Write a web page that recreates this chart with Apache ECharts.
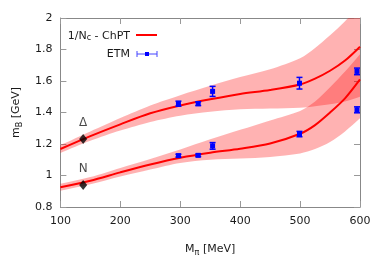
<!DOCTYPE html>
<html><head><meta charset="utf-8">
<script src="https://cdn.jsdelivr.net/npm/echarts@6/dist/echarts.min.js"></script>
<style>html,body{margin:0;padding:0;background:#fff}#c{width:382px;height:273px}</style>
</head><body><div id="c"></div>
<script>
// pion mass samples (MeV) for the 1/Nc - ChPT curves
const mPi       = [100,   150,   200,   250,   300,   350,   400,   450,   500,   525,   550,   575,   600];
const deltaFit  = [1.168, 1.250, 1.325, 1.395, 1.445, 1.484, 1.518, 1.543, 1.578, 1.615, 1.665, 1.730, 1.818];
const deltaLow  = [1.143, 1.220, 1.285, 1.340, 1.380, 1.405, 1.420, 1.425, 1.430, 1.440, 1.452, 1.470, 1.500];
const deltaHigh = [1.193, 1.280, 1.365, 1.445, 1.510, 1.570, 1.625, 1.675, 1.745, 1.810, 1.890, 1.980, 2.070];
const nucFit    = [0.925, 0.967, 1.020, 1.070, 1.113, 1.145, 1.170, 1.203, 1.265, 1.320, 1.400, 1.490, 1.610];
const nucLow    = [0.903, 0.944, 0.993, 1.038, 1.080, 1.100, 1.108, 1.118, 1.140, 1.168, 1.213, 1.280, 1.363];
const nucHigh   = [0.947, 0.990, 1.048, 1.105, 1.165, 1.230, 1.290, 1.350, 1.410, 1.470, 1.560, 1.660, 1.770];
// ETM lattice data
const etmPionMass   = [297,   330,   354,   499,   595];
const etmDelta      = [1.456, 1.456, 1.534, 1.586, 1.661];
const etmDeltaErr   = [0.016, 0.012, 0.032, 0.037, 0.021];
const etmNucleon    = [1.126, 1.128, 1.188, 1.263, 1.417];
const etmNucleonErr = [0.009, 0.008, 0.021, 0.017, 0.019];
// physical points
const physPionMass = [138, 138];
const physMass     = [0.939, 1.232];
const physLabels   = ['N', 'Δ'];

const FONT = 'DejaVu Sans';
const TXT = '#1a1a1a';
const BAND = 'rgba(255,0,0,0.3)';
const BLUE = '#0000ff';

const pairs = (xs, ys) => xs.map((x, i) => [x, ys[i]]);

function bandSeries(lo, hi) {
  return {
    type: 'custom', clip: true, silent: true, z: 1,
    data: [[mPi[0], lo[0]]],
    renderItem: function (params, api) {
      const top = mPi.map((x, i) => api.coord([x, hi[i]]));
      const bot = mPi.map((x, i) => api.coord([x, lo[i]])).reverse();
      // duplicate corner points so smoothing does not round the band ends
      const pts = [top[0], ...top, top[top.length - 1], bot[0], ...bot, bot[bot.length - 1]];
      return { type: 'polygon', shape: { points: pts, smooth: 0.3 }, style: { fill: BAND } };
    }
  };
}
function curveSeries(ys) {
  return { type: 'line', data: pairs(mPi, ys), smooth: 0.3, symbol: 'none',
    lineStyle: { color: '#ff0000', width: 2 }, z: 3 };
}
function errRender(params, api) {
  const x = api.value(0), y = api.value(1), e = api.value(2);
  const c = api.coord([x, y]), lo = api.coord([x, y - e]), hi = api.coord([x, y + e]);
  const cw = 3, st = { stroke: BLUE, lineWidth: 1.5 };
  return { type: 'group', children: [
    { type: 'line', shape: { x1: c[0], y1: hi[1], x2: c[0], y2: lo[1] }, style: st },
    { type: 'line', shape: { x1: c[0] - cw, y1: hi[1], x2: c[0] + cw, y2: hi[1] }, style: st },
    { type: 'line', shape: { x1: c[0] - cw, y1: lo[1], x2: c[0] + cw, y2: lo[1] }, style: st },
    { type: 'rect', shape: { x: c[0] - 2.5, y: c[1] - 2.5, width: 5, height: 5 }, style: { fill: BLUE } }
  ] };
}
function errSeries(ys, es) {
  return { type: 'custom', renderItem: errRender, z: 4,
    data: etmPionMass.map((x, i) => [x, ys[i], es[i]]) };
}

const richMain = { fontSize: 11, lineHeight: 16, color: TXT, fontFamily: FONT };
const richSub = { fontSize: 8, lineHeight: 8, verticalAlign: 'bottom', color: TXT, fontFamily: FONT };

const axisCommon = {
  type: 'value', axisLine: { lineStyle: { color: '#888', width: 1 } },
  axisTick: { inside: true, length: 6, lineStyle: { color: '#999' } },
  splitLine: { show: false }
};

const chart = echarts.init(document.getElementById('c'), null, { renderer: 'canvas' });
chart.setOption({
  animation: false,
  textStyle: { fontFamily: FONT },
  grid: { left: 53, top: 18, right: 22, bottom: 66 },
  xAxis: [
    Object.assign({}, axisCommon, {
      min: 100, max: 600, interval: 100, position: 'bottom',
      axisLabel: { color: TXT, fontSize: 11, margin: 9, fontFamily: FONT },
      name: 'M{s|π} [MeV]', nameLocation: 'middle', nameGap: 34,
      nameTextStyle: { rich: { a: richMain, s: richSub }, fontSize: 11, color: TXT, lineHeight: 16 }
    }),
    Object.assign({}, axisCommon, { min: 100, max: 600, interval: 100, position: 'top', axisLabel: { show: false } })
  ],
  yAxis: [
    Object.assign({}, axisCommon, {
      min: 0.8, max: 2, interval: 0.2, position: 'left',
      axisLabel: { color: TXT, fontSize: 11, margin: 8, fontFamily: FONT,
        formatter: v => String(Math.round(v * 10) / 10) },
      name: 'm{s|B} [GeV]', nameLocation: 'middle', nameGap: 35,
      nameTextStyle: { rich: { a: richMain, s: richSub }, fontSize: 11, color: TXT, lineHeight: 16 }
    }),
    Object.assign({}, axisCommon, { min: 0.8, max: 2, interval: 0.2, position: 'right', axisLabel: { show: false } })
  ],
  series: [
    bandSeries(deltaLow, deltaHigh),
    bandSeries(nucLow, nucHigh),
    curveSeries(deltaFit),
    curveSeries(nucFit),
    errSeries(etmDelta, etmDeltaErr),
    errSeries(etmNucleon, etmNucleonErr),
    { type: 'scatter', data: pairs(physPionMass, physMass), symbol: 'diamond', symbolSize: [8, 10],
      itemStyle: { color: '#000' }, z: 5,
      label: { show: true, position: 'top', distance: 5, color: TXT, fontSize: 12, fontFamily: FONT,
        formatter: p => physLabels[p.dataIndex] } }
  ],
  graphic: [
    { type: 'text', z: 10, style: { x: 130, y: 36, text: '1/N{s|c} - ChPT', align: 'right', verticalAlign: 'middle',
        fill: TXT, font: '11px "DejaVu Sans"', rich: { s: richSub } } },
    { type: 'line', z: 10, shape: { x1: 136, y1: 35, x2: 157, y2: 35 }, style: { stroke: '#ff0000', lineWidth: 2 } },
    { type: 'text', z: 10, style: { x: 130, y: 54, text: 'ETM', align: 'right', verticalAlign: 'middle',
        fill: TXT, font: '11px "DejaVu Sans"' } },
    { type: 'line', z: 10, shape: { x1: 137, y1: 54, x2: 157, y2: 54 }, style: { stroke: '#4444ff', lineWidth: 1 } },
    { type: 'line', z: 10, shape: { x1: 137, y1: 51, x2: 137, y2: 57 }, style: { stroke: '#4444ff', lineWidth: 1 } },
    { type: 'line', z: 10, shape: { x1: 157, y1: 51, x2: 157, y2: 57 }, style: { stroke: '#4444ff', lineWidth: 1 } },
    { type: 'rect', z: 10, shape: { x: 145, y: 52, width: 4, height: 4 }, style: { fill: BLUE } }
  ]
});
</script></body></html>
